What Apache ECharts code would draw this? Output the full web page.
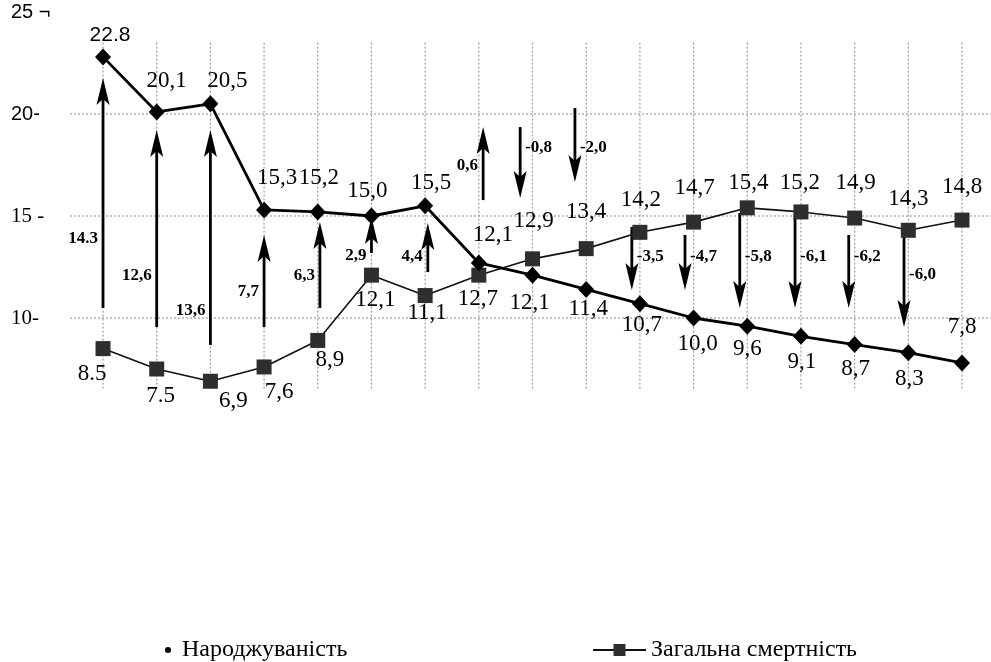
<!DOCTYPE html>
<html><head><meta charset="utf-8">
<script src="https://cdn.jsdelivr.net/npm/echarts@6/dist/echarts.min.js"></script>
<style>html,body{margin:0;padding:0;background:#fff}#c{width:991px;height:662px}</style>
</head><body><div id="c"></div>
<script>
// ---- data ----
const periods = ['1','2','3','4','5','6','7','8','9','10','11','12','13','14','15','16','17'];
const births = [22.8,20.1,20.5,15.3,15.2,15.0,15.5,12.7,12.1,11.4,10.7,10.0,9.6,9.1,8.7,8.3,7.8];
const birthLabels = ['22.8','20,1','20,5','15,3','15,2','15,0','15,5','12,7','12,1','11,4','10,7','10,0','9,6','9,1','8,7','8,3','7,8'];
const mortality = [8.5,7.5,6.9,7.6,8.9,12.1,11.1,12.1,12.9,13.4,14.2,14.7,15.4,15.2,14.9,14.3,14.8];
const mortalityLabels = ['8.5','7.5','6,9','7,6','8,9','12,1','11,1','12,1','12,9','13,4','14,2','14,7','15,4','15,2','14,9','14,3','14,8'];
const diffLabels = ['14.3','12,6','13,6','7,7','6,3','2,9','4,4','0,6','-0,8','-2,0','-3,5','-4,7','-5,8','-6,1','-6,2','-6,0'];
const arrowPos = [0,1,2,3,4.04,5.0,6.05,7.08,7.77,8.79,9.85,10.84,11.86,12.89,13.89,14.92];
const arrowFrom = [10.49,9.56,8.68,9.56,10.49,13.19,12.25,15.78,19.36,20.29,14.46,14.07,15.15,15.05,14.07,14.07];
const arrowTo = [21.76,19.22,19.22,14.07,14.71,14.95,14.66,19.36,15.88,16.67,11.37,11.37,10.49,10.49,10.49,9.56];
const arrowLabelAt = [13.87,12.06,10.34,11.27,12.06,13.04,12.99,17.45,18.33,18.33,12.99,12.99,12.99,12.99,12.99,12.11];
const yTicks = [10,15,20,25];
const yTickLabels = ['10-','15 -','20-','25 ¬'];

// ---- layout / style (label offsets in px) ----
const birthOff = [[7,-22],[10,-31],[17,-23],[13,-32],[1,-34],[-4,-25],[6,-23],[-1,36],[-3,28],[2,20],[2,21],[4,26],[0,23],[1,26],[1,24],[1,26],[0,-36]];
const mortOff = [[-11,25],[4,27],[23,20],[15,25],[12,20],[4,25],[2,17],[14,-40],[1,-38],[0,-37],[1,-32],[1,-34],[1,-25],[-1,-29],[1,-35],[0,-31],[0,-33]];
const SERIF = 'Liberation Serif';
const SANS = 'Liberation Sans';
const GRID_COLOR = '#9c9c9c';

const chart = echarts.init(document.getElementById('c'), null, {renderer:'canvas'});
const labelBase = {show:true, position:'inside', fontFamily:SERIF, fontSize:23, color:'#000'};

const option = {
  animation:false,
  backgroundColor:'#fff',
  textStyle:{fontFamily:SERIF},
  grid:{left:70, right:0, top:12, bottom:242},
  xAxis:{type:'value', min:-0.615, max:16.54, show:false},
  yAxis:{type:'value', min:5, max:25, interval:5,
    axisLine:{show:false}, axisTick:{show:false}, splitLine:{show:false},
    axisLabel:{align:'left', margin:59, showMaxLabel:true,
      formatter:function(v){const k=yTicks.indexOf(v); if(k<0) return ''; return (v>=20?'{s|':'{r|')+yTickLabels[k]+'}';},
      rich:{s:{fontFamily:SANS,fontSize:20,color:'#000'}, r:{fontFamily:SERIF,fontSize:21,color:'#000'}}}},
  legend:[
    {data:[{name:'Народжуваність', icon:'circle'}], left:160, top:633, itemWidth:6, itemHeight:6, itemGap:0, selectedMode:false,
     textStyle:{fontFamily:SERIF, fontSize:24, color:'#000', fontWeight:'normal', padding:[0,0,0,6]}},
    {data:['Загальна смертність'], left:587, top:633, itemWidth:53, itemHeight:15, selectedMode:false,
     textStyle:{fontFamily:SERIF, fontSize:24, color:'#000', fontWeight:'normal'}}
  ],
  series:[
    {type:'custom', name:'vgrid', silent:true, z:1,
     data: periods.map((_,i)=>[i, 23.5, 6.45]), encode:{x:0, y:[1,2]},
     renderItem:function(params, api){
       const a=api.coord([api.value(0), api.value(1)]), b=api.coord([api.value(0), api.value(2)]);
       return {type:'line', shape:{x1:a[0],y1:a[1],x2:b[0],y2:b[1]}, style:{stroke:GRID_COLOR, lineWidth:1.2, lineDash:[2,2]}};
     }},
    {type:'custom', name:'hgrid', silent:true, z:1,
     data: yTicks.filter(v=>v<25).map(v=>[0, v]), encode:{x:0, y:1},
     renderItem:function(params, api){
       const cs=params.coordSys; const p=api.coord([0, api.value(1)]);
       return {type:'line', shape:{x1:cs.x,y1:p[1],x2:cs.x+cs.width,y2:p[1]}, style:{stroke:GRID_COLOR, lineWidth:1.2, lineDash:[2,2]}};
     }},
    {type:'custom', name:'arrows', silent:true, z:2,
     data: diffLabels.map((t,i)=>[arrowPos[i], arrowFrom[i], arrowTo[i], arrowLabelAt[i]]),
     encode:{x:0, y:[1,2]},
     renderItem:function(params, api){
       const i=params.dataIndex;
       const x=api.value(0);
       const a=api.coord([x, api.value(1)]), b=api.coord([x, api.value(2)]);
       const dir = b[1] < a[1] ? -1 : 1;
       const headLen=27, headW=13, notch=6;
       const baseY=b[1]-dir*headLen;
       const lp=api.coord([x, api.value(3)]);
       const neg = diffLabels[i].charAt(0)==='-';
       return {type:'group', children:[
         {type:'line', shape:{x1:a[0],y1:a[1],x2:a[0],y2:baseY+dir*notch}, style:{stroke:'#000', lineWidth:2.8}},
         {type:'polygon', shape:{points:[[b[0],b[1]],[b[0]-headW/2,baseY],[b[0],baseY+dir*notch],[b[0]+headW/2,baseY]]}, style:{fill:'#000'}},
         {type:'text', x: neg ? lp[0]+5 : lp[0]-5, y: lp[1],
          style:{text:diffLabels[i], align: neg?'left':'right', verticalAlign:'middle', font:'bold 17px "Liberation Serif"', fill:'#000'}}
       ]};
     }},
    {type:'line', name:'Народжуваність', z:4,
     data: births.map((v,i)=>({value:[i,v], label: i===0 ? {offset:birthOff[i], fontFamily:SANS, fontSize:21} : {offset:birthOff[i]}})),
     symbol:'diamond', symbolSize:[16,17], itemStyle:{color:'#000'},
     lineStyle:{color:'#000', width:2.8},
     label:Object.assign({}, labelBase, {formatter:p=>birthLabels[p.dataIndex]})},
    {type:'line', name:'Загальна смертність', z:3,
     data: mortality.map((v,i)=>({value:[i,v], label:{offset:mortOff[i]}})),
     symbol:'rect', symbolSize:15, itemStyle:{color:'#2e2e2e'},
     lineStyle:{color:'#111', width:1.6},
     label:Object.assign({}, labelBase, {formatter:p=>mortalityLabels[p.dataIndex]})}
  ]
};
chart.setOption(option);
</script>
</body></html>
